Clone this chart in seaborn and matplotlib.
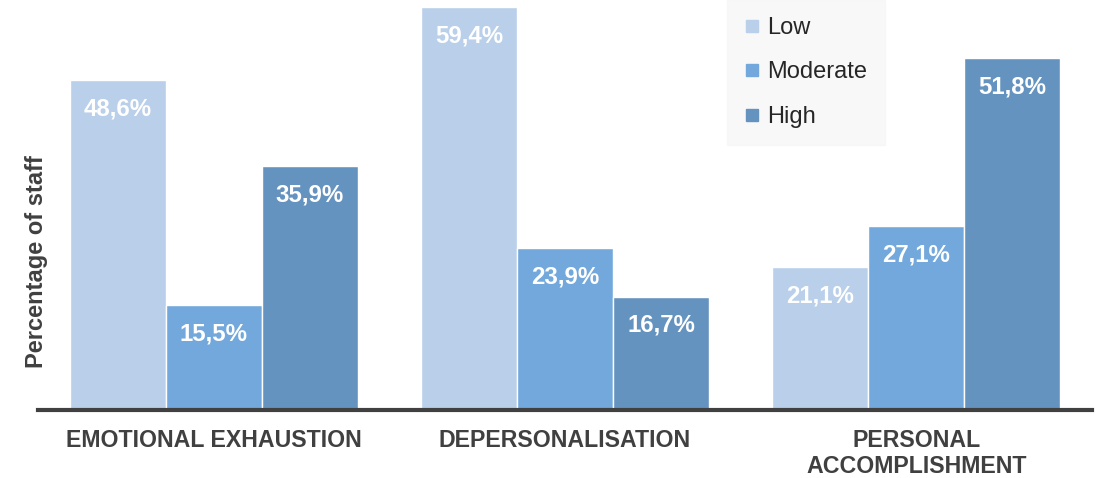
import matplotlib
matplotlib.use("Agg")
import matplotlib.pyplot as plt
import seaborn as sns
import pandas as pd
from matplotlib.lines import Line2D

categories = ["EMOTIONAL EXHAUSTION", "DEPERSONALISATION", "PERSONAL\nACCOMPLISHMENT"]
levels = ["Low", "Moderate", "High"]
low_vals = [48.6, 59.4, 21.1]
moderate_vals = [15.5, 23.9, 27.1]
high_vals = [35.9, 16.7, 51.8]
value_labels = [["48,6%", "59,4%", "21,1%"],
                 ["15,5%", "23,9%", "27,1%"],
                 ["35,9%", "16,7%", "51,8%"]]
colors = ["#B9CFEA", "#72A8DB", "#6593BF"]

rows = []
for lvl, vals in zip(levels, [low_vals, moderate_vals, high_vals]):
    for c, v in zip(categories, vals):
        rows.append({"category": c, "level": lvl, "value": v})
df = pd.DataFrame(rows)

sns.set_theme(style="white")
plt.rcParams["font.family"] = ["Liberation Sans", "DejaVu Sans"]

fig = plt.figure(figsize=(11.02, 4.78), dpi=100)
ax = fig.add_axes([38 / 1102, 68 / 478, (1092 - 38) / 1102, 410 / 478])

sns.barplot(data=df, x="category", y="value", hue="level", order=categories,
            hue_order=levels, palette=colors, saturation=1, width=0.82,
            edgecolor="white", linewidth=1, ax=ax, legend=False)

ax.set_xlim(-0.5, 2.5)
ax.set_ylim(0, 60.4)
ax.set_yticks([])
ax.set_xlabel("")
ax.set_ylabel("Percentage of staff", fontsize=17, fontweight="bold",
              color="#404040")
ax.yaxis.set_label_coords(10 / 1054, (410 - 262) / 410)
for s in ["top", "right", "left"]:
    ax.spines[s].set_visible(False)
ax.spines["bottom"].set_color("#404040")
ax.spines["bottom"].set_linewidth(3)
ax.tick_params(axis="x", length=0, pad=14)
for lab in ax.get_xticklabels():
    lab.set_fontsize(16.7)
    lab.set_fontweight("bold")
    lab.set_color("#404040")
    lab.set_verticalalignment("top")
    lab.set_linespacing(1.12)

for container, labs in zip(ax.containers, value_labels):
    ax.bar_label(container, labels=labs, padding=-29, color="white",
                 fontsize=17.3, fontweight="bold")

handles = [Line2D([0], [0], marker="s", linestyle="none", markersize=9,
                  markerfacecolor=c, markeredgecolor=c) for c in colors]
leg = ax.legend(handles, levels, loc="upper left",
                bbox_to_anchor=((727 - 38) / 1054, 1.0), frameon=True,
                fontsize=17, handlelength=0.7, handletextpad=0.3,
                labelspacing=0.95, borderpad=0.72, borderaxespad=0)
leg.get_frame().set_facecolor("#F7F7F7")
leg.get_frame().set_edgecolor("#F7F7F7")
leg.get_frame().set_boxstyle("square", pad=0)
for t in leg.get_texts():
    t.set_color("#262626")

fig.savefig("out.png", dpi=100)
